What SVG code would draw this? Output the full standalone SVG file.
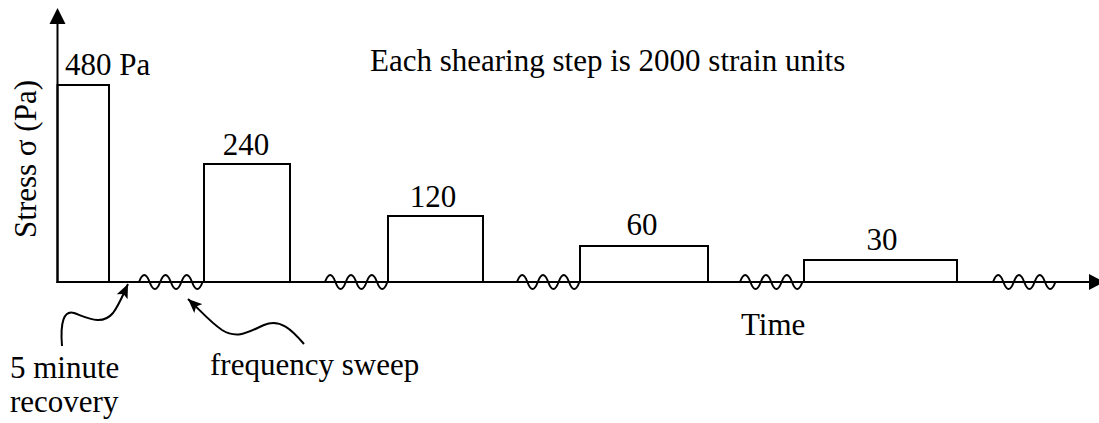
<svg xmlns="http://www.w3.org/2000/svg" width="1099" height="423" viewBox="0 0 1099 423">
<style>
.ln{fill:none;stroke:#000;stroke-width:2}
.bar{fill:none;stroke:#000;stroke-width:2}
.sq{fill:none;stroke:#000;stroke-width:2}
.t{font-family:"Liberation Serif","Times New Roman",serif;font-size:31px;fill:#000}
.m{text-anchor:middle}
</style>
<defs>
<marker id="ah" markerUnits="userSpaceOnUse" markerWidth="16" markerHeight="12" refX="14" refY="6" orient="auto">
<path d="M0,0 L14,6 L0,12 L3,6 z" fill="#000"/>
</marker>
</defs>
<rect width="1099" height="423" fill="#fff"/>
<g id="axes">
<line class="ln" x1="57.5" y1="22" x2="57.5" y2="283"/>
<polygon points="57.5,8 49.5,24 65.5,24" fill="#000"/>
<line class="ln" x1="56.5" y1="282" x2="1090" y2="282"/>
<polygon points="1104,282 1089,274 1089,290" fill="#000"/>
<text class="t" transform="translate(36,159) rotate(-90)" text-anchor="middle">Stress σ (Pa)</text>
<text class="t" x="741" y="335">Time</text>
</g>
<g id="step1">
<rect class="bar" x="57.5" y="85" width="51.5" height="197"/>
<text class="t" x="65" y="75">480 Pa</text>
</g>
<g id="step2">
<rect class="bar" x="204" y="164" width="86" height="118"/>
<text class="t m" x="246" y="155">240</text>
</g>
<g id="step3">
<rect class="bar" x="388" y="216" width="95" height="66"/>
<text class="t m" x="433" y="207">120</text>
</g>
<g id="step4">
<rect class="bar" x="580" y="246" width="128" height="36"/>
<text class="t m" x="642" y="235">60</text>
</g>
<g id="step5">
<rect class="bar" x="804" y="260" width="153" height="22"/>
<text class="t m" x="882" y="250">30</text>
</g>
<g id="sweeps">
<path class="sq" d="M139,282 q5.3,-14 10.6,0 t10.6,0 t10.6,0 t10.6,0 t10.6,0 t10.6,0"/>
<path class="sq" d="M325,282 q5.2,-14 10.4,0 t10.4,0 t10.4,0 t10.4,0 t10.4,0 t10.4,0"/>
<path class="sq" d="M517,282 q5.2,-14 10.4,0 t10.4,0 t10.4,0 t10.4,0 t10.4,0 t10.4,0"/>
<path class="sq" d="M740,282 q5.2,-14 10.4,0 t10.4,0 t10.4,0 t10.4,0 t10.4,0 t10.4,0"/>
<path class="sq" d="M993,282 q5.2,-14 10.4,0 t10.4,0 t10.4,0 t10.4,0 t10.4,0 t10.4,0"/>
</g>
<g id="title">
<text class="t" x="370" y="71">Each shearing step is 2000 strain units</text>
</g>
<g id="connectors">
<path class="ln" d="M62,346 C60,322 64,310 74,313 C88,318 102,326 113,313 C119,305 122,297 128,284" marker-end="url(#ah)"/>
<path class="ln" d="M304,344 C292,330 280,318 264,325 C250,331 238,340 222,330 C210,322 200,310 188,299" marker-end="url(#ah)"/>
</g>
<g id="recovery-label">
<text class="t" x="10" y="378">5 minute</text>
<text class="t" x="10" y="412">recovery</text>
</g>
<g id="sweep-label">
<text class="t" x="210" y="375">frequency sweep</text>
</g>
</svg>
